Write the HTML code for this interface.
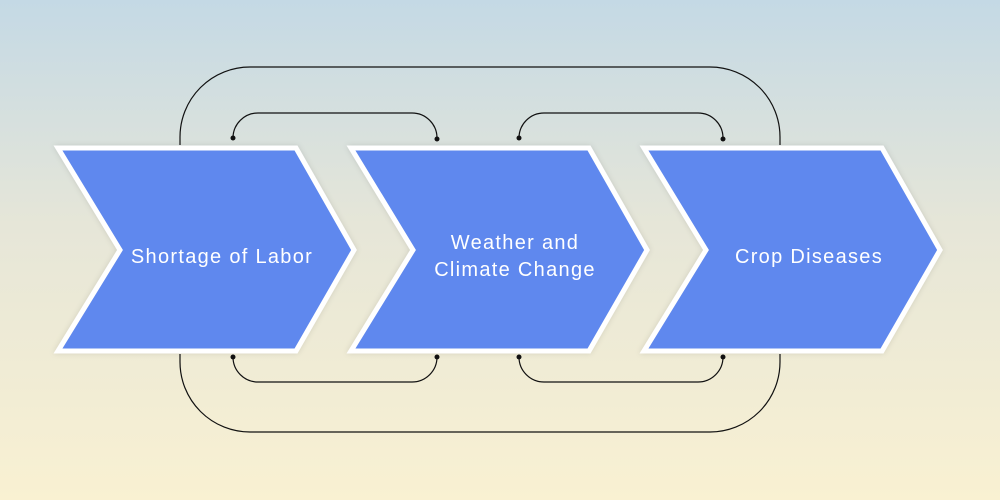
<!DOCTYPE html>
<html><head><meta charset="utf-8"><style>
html,body{margin:0;padding:0}
body{width:1000px;height:500px;overflow:hidden;background:linear-gradient(180deg,#c4d9e5 0%,#e6e6d8 45%,#f9f1d2 100%);}
svg{display:block}
</style></head><body>
<svg width="1000" height="500" viewBox="0 0 1000 500" xmlns="http://www.w3.org/2000/svg">
<defs>
<filter id="sh" x="-10%" y="-10%" width="120%" height="120%"><feDropShadow dx="0" dy="0" stdDeviation="3" flood-color="#000" flood-opacity="0.12"/></filter>
</defs>
<g fill="none" stroke="#111" stroke-width="1.2">
<path d="M180 145 V137 A70 70 0 0 1 250 67 H710 A70 70 0 0 1 780 137 V145"/>
<path d="M180 354 V362 A70 70 0 0 0 250 432 H710 A70 70 0 0 0 780 362 V354"/>
<path d="M233 138 A25 25 0 0 1 258 113 H412 A25 25 0 0 1 437 138"/>
<path d="M519 138 A25 25 0 0 1 544 113 H698 A25 25 0 0 1 723 138"/>
<path d="M233 357 A25 25 0 0 0 258 382 H412 A25 25 0 0 0 437 357"/>
<path d="M519 357 A25 25 0 0 0 544 382 H698 A25 25 0 0 0 723 357"/>
</g>
<g fill="#111">
<circle cx="233" cy="138" r="2.5"/><circle cx="437" cy="139" r="2.5"/>
<circle cx="519" cy="138" r="2.5"/><circle cx="723" cy="139" r="2.5"/>
<circle cx="233" cy="357" r="2.5"/><circle cx="437" cy="357" r="2.5"/>
<circle cx="519" cy="357" r="2.5"/><circle cx="723" cy="357" r="2.5"/>
</g>
<g fill="#5f88ee" stroke="#fff" stroke-width="5" stroke-linejoin="miter" filter="url(#sh)">
<polygon points="58,148 296,148 354,250 296,351 58,351 120,250"/>
<polygon points="351,148 589,148 647,250 589,351 351,351 413,250"/>
<polygon points="644,148 882,148 940,250 882,351 644,351 706,250"/>
</g>
<g fill="#fff" font-family="Liberation Sans, sans-serif" font-size="20" letter-spacing="1.3" text-anchor="middle">
<text x="222" y="263">Shortage of Labor</text>
<text x="515" y="249">Weather and</text>
<text x="515" y="276">Climate Change</text>
<text x="809" y="263">Crop Diseases</text>
</g>
</svg>
</body></html>
